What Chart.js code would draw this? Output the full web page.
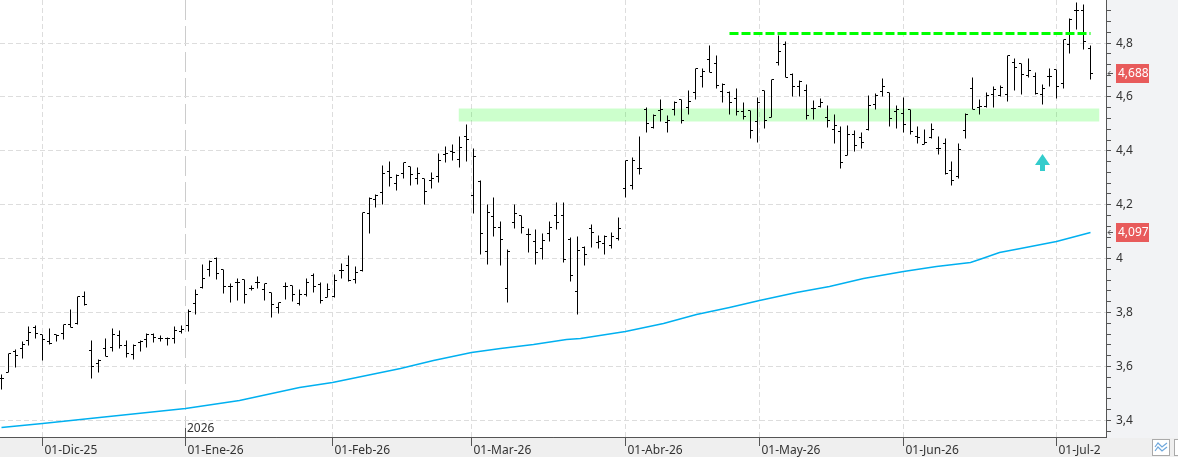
<!DOCTYPE html>
<html>
<head>
<meta charset="utf-8">
<title>Chart</title>
<style>
    html, body { margin: 0; padding: 0; background: #fff; }
    canvas { display: block; }
</style>
<script src="https://cdn.jsdelivr.net/npm/chart.js@4/dist/chart.umd.js"></script>
</head>
<body>
<canvas id="chart" width="1178" height="459"></canvas>
<script>
var opens = [
    3.555, 3.577, 3.657, 3.666, 3.696, 3.746, 3.719, 3.694, 3.719, 3.722, 3.756, 3.759, 3.860,
    3.660, 3.611, 3.667, 3.672, 3.715, 3.678, 3.645, 3.688, 3.700, 3.720, 3.704, 3.703, 3.704, 3.730,
    3.750, 3.832, 3.894, 3.959, 4.000, 3.959, 3.895, 3.913, 3.921, 3.890, 3.911, 3.887, 3.875, 3.818,
    3.895, 3.901, 3.834, 3.866, 3.938, 3.904, 3.855, 3.858, 3.957, 3.974, 3.922, 3.955, 4.167, 4.219,
    4.245, 4.325, 4.278, 4.315, 4.341, 4.299, 4.297, 4.289, 4.306, 4.387, 4.398, 4.369, 4.452, 4.234,
    4.286, 4.026, 4.156, 4.115, 3.889, 4.133, 4.159, 4.090, 4.063, 4.037, 4.093, 4.159, 4.159, 4.072,
    3.878, 4.041, 4.111, 4.059, 4.056, 4.048, 4.074, 4.260, 4.271, 4.334, 4.553, 4.486, 4.549, 4.506,
    4.555, 4.590, 4.560, 4.617, 4.676, 4.738, 4.723, 4.619, 4.616, 4.593, 4.545, 4.550, 4.508, 4.623,
    4.523, 4.727, 4.794, 4.682, 4.639, 4.624, 4.559, 4.566, 4.523, 4.478, 4.473, 4.382, 4.460, 4.451,
    4.481, 4.572, 4.620, 4.616, 4.546, 4.538, 4.553, 4.454, 4.424, 4.449, 4.408, 4.426, 4.329, 4.306,
    4.475, 4.630, 4.562, 4.565, 4.610, 4.606, 4.608, 4.728, 4.723, 4.680, 4.675, 4.609, 4.675, 4.701,
    4.649, 4.795, 4.921, 4.920, 4.779
];
var highs = [
    3.570, 3.648, 3.662, 3.692, 3.749, 3.753, 3.719, 3.741, 3.719, 3.756, 3.812, 3.860, 3.879,
    3.697, 3.625, 3.704, 3.741, 3.734, 3.697, 3.682, 3.696, 3.724, 3.723, 3.713, 3.707, 3.749, 3.751,
    3.811, 3.886, 3.979, 3.994, 4.004, 3.959, 3.909, 3.926, 3.922, 3.901, 3.934, 3.909, 3.875, 3.839,
    3.911, 3.901, 3.885, 3.926, 3.944, 3.913, 3.907, 3.942, 3.981, 4.012, 3.970, 4.171, 4.226, 4.237,
    4.346, 4.360, 4.312, 4.356, 4.341, 4.339, 4.297, 4.320, 4.391, 4.415, 4.424, 4.454, 4.498, 4.409,
    4.289, 4.201, 4.227, 4.138, 4.034, 4.201, 4.161, 4.112, 4.108, 4.094, 4.137, 4.209, 4.209, 4.079,
    4.083, 4.046, 4.128, 4.086, 4.086, 4.098, 4.153, 4.365, 4.376, 4.454, 4.560, 4.536, 4.591, 4.531,
    4.583, 4.591, 4.624, 4.706, 4.706, 4.791, 4.754, 4.649, 4.620, 4.632, 4.579, 4.550, 4.597, 4.624,
    4.665, 4.828, 4.806, 4.686, 4.660, 4.645, 4.587, 4.593, 4.569, 4.535, 4.490, 4.494, 4.476, 4.468,
    4.606, 4.613, 4.669, 4.617, 4.569, 4.598, 4.554, 4.491, 4.480, 4.502, 4.454, 4.446, 4.361, 4.428,
    4.538, 4.672, 4.591, 4.616, 4.639, 4.642, 4.754, 4.743, 4.724, 4.743, 4.691, 4.646, 4.706, 4.702,
    4.813, 4.890, 4.949, 4.942, 4.790
];
var lows = [
    3.515, 3.577, 3.597, 3.631, 3.678, 3.705, 3.623, 3.683, 3.691, 3.701, 3.743, 3.754, 3.826,
    3.556, 3.579, 3.635, 3.657, 3.667, 3.633, 3.624, 3.657, 3.670, 3.687, 3.694, 3.676, 3.685, 3.724,
    3.729, 3.794, 3.891, 3.935, 3.923, 3.869, 3.838, 3.846, 3.832, 3.882, 3.889, 3.846, 3.783, 3.798,
    3.849, 3.840, 3.827, 3.858, 3.876, 3.835, 3.854, 3.854, 3.928, 3.917, 3.908, 3.954, 4.095, 4.188,
    4.201, 4.269, 4.254, 4.299, 4.273, 4.277, 4.201, 4.262, 4.284, 4.358, 4.366, 4.340, 4.361, 4.169,
    4.017, 3.980, 4.084, 3.973, 3.839, 4.113, 4.095, 4.024, 3.980, 3.995, 4.064, 4.110, 3.984, 3.917,
    3.791, 3.973, 4.043, 4.036, 4.017, 4.036, 4.068, 4.228, 4.256, 4.314, 4.470, 4.484, 4.510, 4.470,
    4.533, 4.503, 4.536, 4.592, 4.636, 4.690, 4.632, 4.581, 4.536, 4.533, 4.516, 4.447, 4.432, 4.484,
    4.523, 4.717, 4.674, 4.602, 4.602, 4.517, 4.517, 4.562, 4.488, 4.428, 4.336, 4.381, 4.399, 4.410,
    4.477, 4.554, 4.601, 4.491, 4.484, 4.470, 4.461, 4.429, 4.423, 4.446, 4.388, 4.314, 4.273, 4.299,
    4.446, 4.554, 4.535, 4.561, 4.561, 4.602, 4.583, 4.624, 4.609, 4.672, 4.609, 4.573, 4.640, 4.596,
    4.633, 4.763, 4.850, 4.777, 4.666
];
var closes = [
    3.555, 3.648, 3.641, 3.682, 3.725, 3.724, 3.700, 3.686, 3.714, 3.756, 3.743, 3.860, 3.829,
    3.601, 3.623, 3.637, 3.719, 3.678, 3.648, 3.678, 3.691, 3.719, 3.707, 3.704, 3.703, 3.734, 3.738,
    3.804, 3.868, 3.926, 3.991, 3.944, 3.895, 3.895, 3.913, 3.868, 3.890, 3.911, 3.907, 3.830, 3.839,
    3.895, 3.868, 3.866, 3.913, 3.896, 3.843, 3.885, 3.919, 3.957, 3.918, 3.948, 4.171, 4.222, 4.236,
    4.315, 4.300, 4.309, 4.356, 4.314, 4.315, 4.248, 4.297, 4.363, 4.391, 4.393, 4.412, 4.441, 4.378,
    4.093, 4.171, 4.115, 4.070, 4.027, 4.167, 4.115, 4.091, 4.022, 4.068, 4.117, 4.133, 3.998, 3.937,
    4.030, 4.015, 4.096, 4.062, 4.084, 4.082, 4.111, 4.363, 4.363, 4.334, 4.501, 4.531, 4.555, 4.512,
    4.580, 4.512, 4.583, 4.705, 4.695, 4.691, 4.642, 4.646, 4.580, 4.545, 4.527, 4.475, 4.579, 4.513,
    4.664, 4.768, 4.674, 4.639, 4.658, 4.531, 4.559, 4.581, 4.512, 4.493, 4.358, 4.460, 4.419, 4.430,
    4.567, 4.607, 4.638, 4.519, 4.553, 4.497, 4.472, 4.449, 4.430, 4.480, 4.408, 4.315, 4.289, 4.406,
    4.535, 4.555, 4.565, 4.606, 4.629, 4.634, 4.753, 4.708, 4.682, 4.698, 4.614, 4.630, 4.675, 4.639,
    4.812, 4.886, 4.921, 4.807, 4.688
];

// moving average, read at these bar positions
var avgBars = [0, 6, 14.2, 26.5, 34.4, 43, 47.7, 52.7, 57.5, 62.3, 67.7, 71.9, 76.7, 81.5, 83.4, 90,
    95.4, 100.2, 105, 109.3, 114.6, 119.4, 124.2, 130, 134.8, 139.6, 141, 143.8, 146.8, 152, 157];
var avgValues = [3.373, 3.388, 3.410, 3.444, 3.474, 3.522, 3.542, 3.567, 3.594, 3.623, 3.651, 3.666, 3.682, 3.700, 3.703, 3.728,
    3.761, 3.792, 3.820, 3.843, 3.876, 3.898, 3.926, 3.952, 3.969, 3.986, 3.995, 4.021, 4.037, 4.063, 4.097];

var monthBars = [6, 26.5, 47.7, 67.7, 90, 109.3, 130, 152];
var monthLabels = ['01-Dic-25', '01-Ene-26', '01-Feb-26', '01-Mar-26', '01-Abr-26', '01-May-26', '01-Jun-26', '01-Jul-26'];
var yearBar = 26.5;
var yearLabel = '2026';

var yTicks = [3.36, 3.4, 3.44, 3.48, 3.52, 3.56, 3.6, 3.64, 3.68, 3.72, 3.76, 3.8, 3.84, 3.88, 3.92, 3.96,
    4, 4.04, 4.08, 4.12, 4.16, 4.2, 4.24, 4.28, 4.32, 4.36, 4.4, 4.44, 4.48, 4.52, 4.56, 4.6, 4.64, 4.68,
    4.72, 4.76, 4.8, 4.84, 4.88, 4.92];
var yMajors = [3.4, 3.6, 3.8, 4, 4.2, 4.4, 4.6, 4.8];
var yLabels = ['3,4', '3,6', '3,8', '4', '4,2', '4,4', '4,6', '4,8'];

// support band, resistance line, signal arrow
var bandBars = [65.95, 158.2];
var bandTop = 4.5575;
var bandBottom = 4.51;
var resistBars = [105, 157];
var resistValue = 4.8345;
var arrowBar = 150;
var arrowValue = 4.357;

var tagValues = [4.688, 4.097];
var tagLabels = ['4,688', '4,097'];

var FONT = '12px "Noto Sans", sans-serif';
var AXIS_COLOR = '#555555';
var GRID_COLOR = '#dddddd';

// keeps marks on whole pixels so the 1px stems stay crisp
class SnappedScale extends Chart.LinearScale {
    getPixelForValue(value) {
        return Math.round(super.getPixelForValue(value) - 0.5) + 0.5;
    }
}
SnappedScale.id = 'snapped';
SnappedScale.defaults = Chart.LinearScale.defaults;
Chart.register(SnappedScale);

function tickImage(left) {
    var c = document.createElement('canvas');
    c.width = 5;
    c.height = 1;
    var ctx = c.getContext('2d');
    ctx.fillStyle = '#000';
    ctx.fillRect(left ? 0 : 3, 0, 2, 1);
    return c;
}

function arrowImage() {
    var c = document.createElement('canvas');
    c.width = 15;
    c.height = 17;
    var ctx = c.getContext('2d');
    ctx.fillStyle = '#33cccc';
    ctx.beginPath();
    ctx.moveTo(7.5, 0);
    ctx.lineTo(15, 11);
    ctx.lineTo(10, 11);
    ctx.lineTo(10, 17);
    ctx.lineTo(5, 17);
    ctx.lineTo(5, 11);
    ctx.lineTo(0, 11);
    ctx.closePath();
    ctx.fill();
    return c;
}

function points(xs, ys) {
    return ys.map(function (y, i) { return { x: xs ? xs[i] : i, y: y }; });
}

var panels = {
    id: 'panels',
    beforeDraw: function (chart) {
        var ctx = chart.ctx;
        ctx.save();
        ctx.fillStyle = '#fff';
        ctx.fillRect(0, 0, 1178, 459);
        ctx.fillStyle = '#f2f3f5';
        ctx.fillRect(1106, 0, 72, 438);
        ctx.fillStyle = '#efefef';
        ctx.fillRect(0, 438, 1178, 19);
        ctx.restore();
    },
    afterDatasetsDraw: function (chart) {
        var ctx = chart.ctx;
        var x = chart.scales.x;
        var y = chart.scales.y;
        ctx.save();

        // the last date runs under the status strip corner
        ctx.fillStyle = '#efefef';
        ctx.fillRect(1101, 438, 77, 19);
        ctx.strokeStyle = AXIS_COLOR;
        ctx.lineWidth = 1;
        ctx.beginPath();
        ctx.moveTo(0, 437.5);
        ctx.lineTo(1106.5, 437.5);
        ctx.moveTo(1106.5, 0);
        ctx.lineTo(1106.5, 438);
        ctx.stroke();

        // year marker above the axis
        var yx = x.getPixelForValue(yearBar);
        ctx.beginPath();
        ctx.moveTo(yx, 428);
        ctx.lineTo(yx, 437);
        ctx.stroke();
        ctx.font = FONT;
        ctx.fillStyle = '#333';
        ctx.textBaseline = 'middle';
        ctx.fillText(yearLabel, yx + 1.5, 429);

        // last value tags
        tagValues.forEach(function (v, i) {
            var py = y.getPixelForValue(v);
            ctx.fillStyle = '#e85b5b';
            ctx.fillRect(1116, py - 9.5, 33, 19);
            ctx.fillStyle = '#fff';
            ctx.fillText(tagLabels[i], 1118, py + 0.5);
            ctx.strokeStyle = AXIS_COLOR;
            ctx.beginPath();
            ctx.moveTo(1113, py);
            ctx.lineTo(1108, py);
            ctx.moveTo(1110.5, py - 2.5);
            ctx.lineTo(1108, py);
            ctx.lineTo(1110.5, py + 2.5);
            ctx.stroke();
        });

        // toolbar buttons
        ctx.fillStyle = '#fff';
        ctx.strokeStyle = '#aaaaaa';
        ctx.fillRect(1152, 439, 18, 17);
        ctx.strokeRect(1152.5, 439.5, 17, 16);
        ctx.fillRect(1174, 439, 4, 17);
        ctx.strokeRect(1174.5, 439.5, 8, 16);
        ctx.strokeStyle = '#6fa8dc';
        ctx.lineWidth = 1.2;
        ctx.beginPath();
        ctx.moveTo(1155, 447);
        ctx.lineTo(1158, 443);
        ctx.lineTo(1162, 447);
        ctx.lineTo(1167, 443);
        ctx.moveTo(1155, 451);
        ctx.lineTo(1158, 447);
        ctx.lineTo(1162, 451);
        ctx.lineTo(1167, 447);
        ctx.stroke();

        ctx.restore();
    }
};

var openTick = tickImage(true);
var closeTick = tickImage(false);

new Chart(document.getElementById('chart'), {
    type: 'bar',
    plugins: [panels],
    data: {
        datasets: [
            {
                type: 'line',
                order: 10,
                data: points(bandBars, [bandTop, bandTop]),
                borderWidth: 0,
                pointRadius: 0,
                fill: '+1',
                backgroundColor: 'rgba(0,255,0,0.2)'
            },
            {
                type: 'line',
                order: 11,
                data: points(bandBars, [bandBottom, bandBottom]),
                borderWidth: 0,
                pointRadius: 0
            },
            {
                type: 'line',
                order: 5,
                data: points(avgBars, avgValues),
                borderColor: '#00b0f0',
                borderWidth: 1.5,
                pointRadius: 0,
                tension: 0
            },
            {
                order: 4,
                data: highs.map(function (h, i) { return { x: i, y: [lows[i], h] }; }),
                backgroundColor: '#000',
                barThickness: 1,
                borderWidth: 0,
                inflateAmount: 0
            },
            {
                type: 'line',
                order: 3,
                data: points(null, opens),
                showLine: false,
                pointStyle: openTick,
                pointRadius: 1
            },
            {
                type: 'line',
                order: 3,
                data: points(null, closes),
                showLine: false,
                pointStyle: closeTick,
                pointRadius: 1
            },
            {
                type: 'line',
                order: 1,
                data: points(resistBars, [resistValue, resistValue]),
                borderColor: '#00ff00',
                borderWidth: 3,
                borderDash: [9, 3],
                pointRadius: 0
            },
            {
                type: 'line',
                order: 1,
                data: points([arrowBar], [arrowValue]),
                showLine: false,
                pointStyle: arrowImage(),
                pointRadius: 1
            }
        ]
    },
    options: {
        responsive: false,
        animation: false,
        events: [],
        layout: { padding: 0, autoPadding: false },
        plugins: {
            legend: { display: false },
            tooltip: { enabled: false }
        },
        scales: {
            x: {
                type: 'snapped',
                offset: false,
                min: -0.173,
                max: 159.19,
                afterBuildTicks: function (axis) {
                    axis.ticks = monthBars.map(function (v) { return { value: v }; });
                },
                afterFit: function (axis) {
                    axis.height = 22;
                    axis.paddingLeft = 0;
                    axis.paddingRight = 0;
                },
                grid: {
                    offset: false,
                    color: function (ctx) {
                        return ctx.tick && ctx.tick.value === yearBar ? '#cccccc' : GRID_COLOR;
                    },
                    tickColor: AXIS_COLOR,
                    tickLength: 9,
                    lineWidth: 1
                },
                border: {
                    color: AXIS_COLOR,
                    dash: function (ctx) {
                        return ctx.tick && ctx.tick.value === yearBar ? [20, 6] : [5, 3];
                    }
                },
                ticks: {
                    autoSkip: false,
                    maxRotation: 0,
                    minRotation: 0,
                    align: 'start',
                    labelOffset: 2,
                    padding: -3,
                    color: '#333',
                    font: { family: '"Noto Sans", sans-serif', size: 12 },
                    callback: function (value) {
                        return monthLabels[monthBars.indexOf(value)];
                    }
                }
            },
            y: {
                type: 'snapped',
                position: 'right',
                min: 3.338,
                max: 4.96,
                afterBuildTicks: function (axis) {
                    axis.ticks = yTicks.map(function (v) { return { value: v }; });
                },
                afterFit: function (axis) {
                    axis.width = 72;
                    axis.paddingTop = 0;
                    axis.paddingBottom = 0;
                },
                grid: {
                    color: function (ctx) {
                        return ctx.tick && yMajors.indexOf(ctx.tick.value) >= 0 ? GRID_COLOR : 'rgba(0,0,0,0)';
                    },
                    tickColor: AXIS_COLOR,
                    tickLength: 5,
                    lineWidth: 1
                },
                border: {
                    color: AXIS_COLOR,
                    dash: [5, 3]
                },
                ticks: {
                    autoSkip: false,
                    padding: 5,
                    color: '#333',
                    font: { family: '"Noto Sans", sans-serif', size: 12 },
                    callback: function (value) {
                        var k = yMajors.indexOf(value);
                        return k >= 0 ? yLabels[k] : '';
                    }
                }
            }
        }
    }
});
</script>
</body>
</html>
